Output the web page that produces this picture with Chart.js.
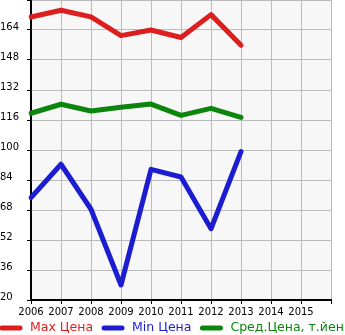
<!DOCTYPE html>
<html lang="ru">
  <head>
    <meta charset="UTF-8" />
    <title>Цены по годам</title>
    <script src="https://cdn.jsdelivr.net/npm/chart.js"></script>
    <style>
      html, body {
        margin: 0;
        padding: 0;
        background: #ffffff;
      }
      #wrap {
        width: 345px;
        height: 335px;
      }
    </style>
  </head>
  <body>
    <div id="wrap"><canvas id="priceChart"></canvas></div>

    <script>
      // years on the x axis (last empty slot closes the grid on the right)
      const years = ["2006", "2007", "2008", "2009", "2010", "2011", "2012", "2013", "2014", "2015", ""];

      const maxPrice = [170.9, 174.5, 171, 161, 164, 160, 172.2, 155.9];
      const minPrice = [74.6, 92.4, 68.4, 28, 89.7, 85.6, 58, 99.1];
      const avgPrice = [119.6, 124.4, 120.8, 122.8, 124.5, 118.5, 122.2, 117.4];

      const seriesNames = ["Max Цена", "Min Цена", "Сред.Цена, т.йен"];
      const seriesColors = ["#dc1e1e", "#1c1cd0", "#0b850b"];

      const yMin = 20;
      const yMax = 180;
      const yStep = 16;

      const fontFamily = "'DejaVu Sans', sans-serif";

      // light grey plot background
      const plotBackground = {
        id: "plotBackground",
        beforeDraw(chart) {
          const { ctx, chartArea } = chart;
          ctx.save();
          ctx.fillStyle = "#f7f7f7";
          ctx.fillRect(chartArea.left, chartArea.top, chartArea.right - chartArea.left, chartArea.bottom - chartArea.top);
          ctx.restore();
        },
      };

      // simple legend row along the bottom, text in series colour
      const bottomLegend = {
        id: "bottomLegend",
        afterDraw(chart) {
          const ctx = chart.ctx;
          const y = 328;
          let x = 2;
          ctx.save();
          ctx.font = "12.5px " + fontFamily;
          ctx.textBaseline = "middle";
          chart.data.datasets.forEach((ds) => {
            ctx.strokeStyle = ds.borderColor;
            ctx.lineWidth = 5;
            ctx.lineCap = "round";
            ctx.beginPath();
            ctx.moveTo(x, y);
            ctx.lineTo(x + 18, y);
            ctx.stroke();
            ctx.fillStyle = ds.borderColor;
            ctx.fillText(ds.label, x + 28, y);
            x += 28 + ctx.measureText(ds.label).width + 11;
          });
          ctx.restore();
        },
      };

      function makeDataset(i, values) {
        return {
          label: seriesNames[i],
          data: values,
          borderColor: seriesColors[i],
          backgroundColor: seriesColors[i],
          borderWidth: 5,
          borderCapStyle: "round",
          borderJoinStyle: "round",
          pointRadius: 0,
          pointHoverRadius: 0,
          tension: 0,
          fill: false,
        };
      }

      new Chart(document.getElementById("priceChart"), {
        type: "line",
        data: {
          labels: years,
          datasets: [makeDataset(0, maxPrice), makeDataset(1, minPrice), makeDataset(2, avgPrice)],
        },
        options: {
          responsive: true,
          maintainAspectRatio: false,
          animation: false,
          layout: {
            padding: { left: 0, right: 14, top: 0, bottom: 15 },
          },
          plugins: {
            legend: { display: false },
            tooltip: { enabled: false },
          },
          scales: {
            x: {
              type: "category",
              offset: false,
              grid: {
                color: "#bbbbbb",
                lineWidth: 1,
                tickLength: 4,
                tickColor: "#000000",
              },
              border: { color: "#000000", width: 2 },
              ticks: {
                color: "#000000",
                font: { family: fontFamily, size: 10 },
                maxRotation: 0,
                autoSkip: false,
                padding: 2,
              },
              afterFit(scale) {
                scale.height = 20;
                scale.paddingLeft = 0;
                scale.paddingRight = 0;
              },
            },
            y: {
              min: yMin,
              max: yMax,
              grid: {
                color: "#bbbbbb",
                lineWidth: 1,
                tickLength: 4,
                tickColor: "#000000",
              },
              border: { color: "#000000", width: 2 },
              ticks: {
                stepSize: yStep,
                color: "#000000",
                font: { family: fontFamily, size: 10 },
                crossAlign: "far",
                labelOffset: -3,
                callback: (v) => (v === yMax ? "" : v),
              },
              afterFit(scale) {
                scale.width = 31;
                scale.paddingTop = 0;
                scale.paddingBottom = 0;
              },
            },
          },
        },
        plugins: [plotBackground, bottomLegend],
      });
    </script>
  </body>
</html>
